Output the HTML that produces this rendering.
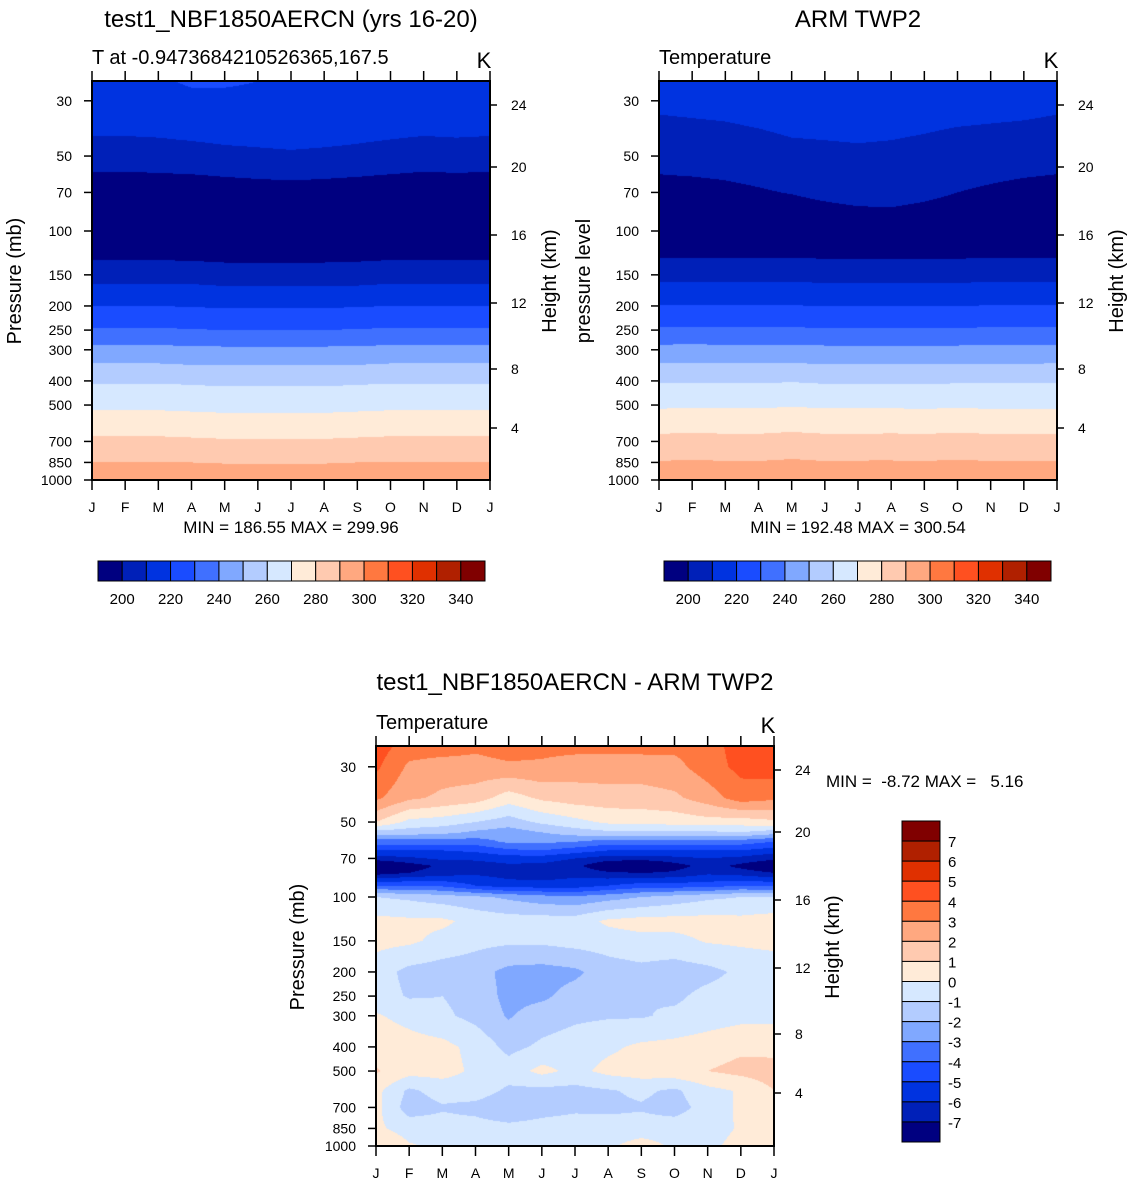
<!DOCTYPE html>
<html><head><meta charset="utf-8">
<style>
html,body{margin:0;padding:0;background:#fff;}
body{width:1133px;height:1184px;position:relative;overflow:hidden;font-family:"Liberation Sans",sans-serif;}
canvas{position:absolute;}
svg{position:absolute;left:0;top:0;}
text{white-space:pre;}
</style></head>
<body>
<canvas id="c1" style="left:92px;top:81px" width="398" height="399"></canvas>
<canvas id="c2" style="left:659px;top:81px" width="398" height="399"></canvas>
<canvas id="c3" style="left:376px;top:746px" width="398" height="400"></canvas>
<svg id="ov" width="1133" height="1184"></svg>
<script>
// ---- data ----
const months = ["J","F","M","A","M","J","J","A","S","O","N","D","J"];
const levelsTop = [25,30,50,70,100,125,150,200,250,300,400,500,700,850,1000];
const modelT = [
[218,218,219,221,221,220,218,217,217,217,217,218,218],
[217,217,217,218,218,218,218,218,217,217,217,217,217],
[206,206,206.5,207,208,208.5,209,208.5,208,207,206,206.5,206],
[192,192,192.5,193,194,195,195.5,195,194,193,192,192.5,192],
[188,188,188,188,187,187,187,187,187,188,188,188,188],
[198,198,198,197.5,197,197,196.5,197,197.5,198,198,198,198],
[206,206,206,206,205,205,205,205,205,206,206,206,206],
[220,220,220,219.5,219,219,219,219,219.5,220,220,220,220],
[231,231,231,230.5,230,230,230,230,230.5,231,231,231,231],
[243,243,243,242,242,242,242,242,242,243,243,243,243],
[259,259,259,258.5,258,258,258,258,258.5,259,259,259,259],
[268,268,268,267.5,267,267,267,267,267.5,268,268,268,268],
[282,282,282,281.5,281,281,281,281,281.5,282,282,282,282],
[290,290,290,290,289.5,289.5,289.5,289.5,290,290,290,290,290],
[297,297,297,297,297,297,297,297,297,297,297,297,297]];
const obsT = [
[214,215,216,217,218,218,218,218,217,216,216,215,214],
[212,212.5,213,214,215,215,215,215,214.5,214,213.5,213,212],
[204,204.5,205,206,207.5,208,208.5,208,207,205.5,205,204.5,204],
[196,196.5,197.5,199,200.5,203,205,205,203,200,198.5,197,196],
[188,188,188.5,189,189.5,190,191,192,190.5,189.5,189,188.5,188],
[199,199,199,199,199,198.5,198.5,198.5,198.5,198.5,199,199,199],
[207,207,207,207,207,206.5,206.5,206.5,206.5,206.5,207,207,207],
[220.5,220.5,220.3,220.3,220.3,220,220,220,219.8,220,220.3,220.3,220.5],
[231.5,231.5,231.3,231.3,231.3,231,231,231,230.8,231,231.3,231.3,231.5],
[243,243.3,243,243,243,242.5,242.5,242.5,242.3,242.5,242.8,242.8,243],
[259,259.3,259,259,259.5,258.8,258.8,258.8,258.8,259,259,259,259],
[268.5,269,268.7,268.7,269.3,268.7,268.7,268.7,268.5,268.8,268.5,268.5,268.5],
[283,283.5,283,283,283.8,283,283,283.2,283,283.5,283,283,283],
[290.5,291,290.5,290.5,291.2,290.5,290.7,290.7,290.5,291,290.5,290.5,290.5],
[298,298.5,298,298,298.5,298,298.2,298.2,298,298.5,298,298,298]];
const levelsDiff = [25,30,40,50,55,60,65,70,75,80,90,100,125,150,200,250,300,400,500,600,700,850,1000];
const diffT = [
[4.5,3.5,3.5,3.2,3.5,3.3,3.3,3.3,3.3,3.2,3.5,4.5,4.8],
[4.2,2.8,2.5,2.6,2.8,2.8,2.5,2.5,2.5,2.7,3.5,4.3,4.5],
[3.2,2.2,1.8,1.5,0.5,1.2,1.5,1.6,1.6,1.8,2.5,3.5,3.2],
[1.0,-0.3,-0.5,-1.0,-1.5,-0.8,-0.3,0.2,0.3,0.4,0.6,0.5,0.8],
[-1.5,-1.5,-1.7,-2.2,-2.5,-2.0,-1.5,-1.2,-1.2,-1.2,-1.2,-1.0,-1.5],
[-3.5,-3.5,-3.5,-3.5,-2.8,-2.8,-3.0,-3.5,-3.5,-3.3,-3.3,-3.5,-4.0],
[-5.0,-5.0,-5.0,-4.8,-4.2,-4.0,-4.5,-5.0,-5.0,-5.0,-5.0,-5.0,-5.5],
[-6.5,-6.2,-5.8,-5.8,-5.5,-5.5,-6.0,-6.5,-6.5,-6.3,-6.0,-6.3,-6.8],
[-8.5,-7.5,-6.8,-6.5,-6.2,-6.3,-6.7,-8.0,-8.7,-7.5,-6.5,-7.3,-8.0],
[-7.5,-7.0,-6.5,-6.2,-6.5,-6.7,-6.3,-6.8,-7.0,-6.8,-6.2,-6.5,-7.0],
[-4.0,-4.0,-4.2,-5.0,-5.5,-5.5,-5.5,-5.0,-4.5,-4.5,-4.5,-4.0,-4.2],
[-1.0,-1.2,-1.5,-1.8,-2.2,-2.6,-2.8,-2.4,-2.0,-1.6,-1.2,-1.0,-1.0],
[0.3,0.2,0.2,-0.3,-0.5,-0.5,-0.5,0.2,0.4,0.4,0.4,0.3,0.5],
[0.3,0.2,-0.3,-0.7,-0.8,-0.8,-0.6,-0.5,-0.3,-0.3,0.1,0.2,0.3],
[-0.5,-1.3,-1.5,-1.6,-2.3,-2.4,-2.2,-1.5,-1.3,-1.5,-1.3,-0.8,-0.6],
[-0.5,-1.1,-1.0,-1.4,-2.3,-2.2,-1.6,-1.3,-1.0,-1.2,-0.7,-0.5,-0.5],
[0.1,-0.3,-0.8,-1.3,-2.1,-1.5,-1.2,-1.1,-1.1,-0.8,-0.5,-0.3,-0.2],
[0.6,0.4,0.3,-0.3,-1.3,-0.8,-0.5,-0.2,0.2,0.3,0.5,0.8,0.6],
[1.1,0.4,0.4,-0.2,-0.5,0.3,-0.3,0.3,0.5,0.7,1.0,1.3,1.5],
[0.3,-1.2,-0.6,-0.5,-1.2,-1.3,-1.3,-1.1,-0.8,-1.2,-0.3,0.1,1.0],
[0.3,-1.5,-1.1,-1.3,-1.8,-1.4,-1.2,-1.2,-1.1,-1.4,-0.6,0.2,0.5],
[0.2,-0.4,-0.6,-0.6,-0.7,-0.6,-0.5,-0.6,-0.6,-0.5,-0.4,0.1,0.4],
[1.0,0.1,-0.2,-0.2,-0.2,-0.2,-0.2,-0.2,0.5,-0.2,-0.2,0.3,1.0]];
const pressureTicks = [30,50,70,100,150,200,250,300,400,500,700,850,1000];
const heightTicks = [24,20,16,12,8,4];
const topBarLabels = [200,220,240,260,280,300,320,340];
const diffBarLabels = [7,6,5,4,3,2,1,0,-1,-2,-3,-4,-5,-6,-7];
const palette = ["#000080","#0020b8","#0033e0","#1a4cff","#4070ff","#80a8ff","#b3ccff","#d6e8ff","#ffebd8","#ffcab0","#ffa880","#ff7840","#ff5020","#e03000","#b02000","#800000"];

// ---- axis helpers ----
const PTOP = 25, PBOT = 1000, PXDEC = 249;
function yP(p, bottom){ return bottom - Math.log10(PBOT/p)*PXDEC; }
function xM(i, left, w){ return left + i*w/12; }
function hexRGB(h){return [parseInt(h.substr(1,2),16),parseInt(h.substr(3,2),16),parseInt(h.substr(5,2),16)];}
const palRGB = palette.map(hexRGB);

function drawField(cid, levels, grid, lo, step){
  const cv = document.getElementById(cid), ctx = cv.getContext('2d');
  const W = cv.width, H = cv.height;
  const img = ctx.createImageData(W,H);
  const lp = levels.map(p=>Math.log10(p));
  for(let y=0;y<H;y++){
    const l = Math.log10(PBOT) - (H-0.5-y)/PXDEC;
    let k=0; while(k<lp.length-2 && l>lp[k+1]) k++;
    let fy=(l-lp[k])/(lp[k+1]-lp[k]); fy=Math.max(0,Math.min(1,fy));
    for(let x=0;x<W;x++){
      const mx=(x+0.5)/W*12; let i=Math.min(11,Math.floor(mx)); const fx=mx-i;
      const v=(grid[k][i]*(1-fx)+grid[k][i+1]*fx)*(1-fy)+(grid[k+1][i]*(1-fx)+grid[k+1][i+1]*fx)*fy;
      let b=Math.floor((v-lo)/step)+1; b=Math.max(0,Math.min(15,b));
      const c=palRGB[b], o=(y*W+x)*4;
      img.data[o]=c[0];img.data[o+1]=c[1];img.data[o+2]=c[2];img.data[o+3]=255;
    }
  }
  ctx.putImageData(img,0,0);
}
drawField('c1', levelsTop, modelT, 200, 10);
drawField('c2', levelsTop, obsT, 200, 10);
drawField('c3', levelsDiff, diffT, -7, 1);

const NS="http://www.w3.org/2000/svg", ov=document.getElementById('ov');
function el(tag, attrs, parent){const e=document.createElementNS(NS,tag);for(const k in attrs)e.setAttribute(k,attrs[k]);(parent||ov).appendChild(e);return e;}
function txt(s,x,y,size,anchor,parent,rot){const t=el('text',{x:x,y:y,'font-size':size,'text-anchor':anchor||'start','font-family':'Liberation Sans, sans-serif',fill:'#000'},parent);if(rot)t.setAttribute('transform','rotate(-90 '+x+' '+y+')');t.textContent=s;return t;}

function frame(left, top, w, h, name, heightYs){
  const g=el('g',{});
  
  
  const bottom=top+h;
  el('rect',{x:left,y:top,width:w,height:h,fill:'none',stroke:'#000','stroke-width':2},g);
  pressureTicks.forEach(p=>{
    const y=yP(p,bottom);
    el('line',{x1:left-8,y1:y,x2:left,y2:y,stroke:'#000','stroke-width':1.5},g);
    const t=txt(String(p),left-20,y+5,14,'end',g);
    
    
  });
  months.forEach((m,i)=>{
    const x=xM(i,left,w);
    el('line',{x1:x,y1:bottom,x2:x,y2:bottom+10,stroke:'#000','stroke-width':1.5},g);
    el('line',{x1:x,y1:top-10,x2:x,y2:top,stroke:'#000','stroke-width':1.5},g);
    const t=txt(m,x,bottom+32,14,'middle',g);
    
    
  });
  heightTicks.forEach((hv,i)=>{
    const y=top+heightYs[i];
    el('line',{x1:left+w,y1:y,x2:left+w+7,y2:y,stroke:'#000','stroke-width':1.5},g);
    const t=txt(String(hv),left+w+21,y+5,14,'start',g);
    
    
  });
}
const hYs=[24,86,154,222,288,347];
frame(92,81,398,399,'model',hYs);
frame(659,81,398,399,'obs',hYs);
frame(376,746,398,400,'diff',hYs);

function T(s,x,y,size,anchor,name,rot){const t=txt(s,x,y,size,anchor,ov,rot);return t;}
T('test1_NBF1850AERCN (yrs 16-20)',291,27,24,'middle','model-title');
T('T at -0.9473684210526365,167.5',92,64,20,'start','model-subtitle');
T('K',484,68,22,'middle','model-units');
T('ARM TWP2',858,27,24,'middle','obs-title');
T('Temperature',659,64,20,'start','obs-subtitle');
T('K',1051,68,22,'middle','obs-units');
T('Pressure (mb)',21,281,20,'middle','model-y-axis-title',true);
T('Height (km)',556,281,20,'middle','model-height-axis-title',true);
T('pressure level',590,281,20,'middle','obs-y-axis-title',true);
T('Height (km)',1123,281,20,'middle','obs-height-axis-title',true);
T('MIN = 186.55 MAX = 299.96',291,533,17,'middle','model-min-max');
T('MIN = 192.48 MAX = 300.54',858,533,17,'middle','obs-min-max');
T('test1_NBF1850AERCN - ARM TWP2',575,690,24,'middle','diff-title');
T('Temperature',376,729,20,'start','diff-subtitle');
T('K',768,733,22,'middle','diff-units');
T('Pressure (mb)',304,947,20,'middle','diff-y-axis-title',true);
T('Height (km)',839,947,20,'middle','diff-height-axis-title',true);
T('MIN =  -8.72 MAX =   5.16',826,787,17,'start','diff-min-max');

function hbar(left,name){
  const g=el('g',{});
  
  
  const bw=(485-98)/16;
  palette.forEach((c,i)=>{
    el('rect',{x:left+i*bw,y:561,width:bw,height:20,fill:c,stroke:'#000','stroke-width':1},g);
  });
  topBarLabels.forEach((v,i)=>{
    const idx=(v-200)/10+1;
    const t=txt(String(v),left+idx*bw,604,15,'middle',g);
    
    
  });
}
hbar(98,'model-colorbar');
hbar(664,'obs-colorbar');
(function(){
  const g=el('g',{});
  
  
  const bh=(1142-821)/16;
  palette.slice().reverse().forEach((c,i)=>{
    el('rect',{x:902,y:821+i*bh,width:38,height:bh,fill:c,stroke:'#000','stroke-width':1},g);
  });
  diffBarLabels.forEach((v,i)=>{
    const idx=7-v+1;
    const t=txt(String(v),948,821+idx*bh+6,15,'start',g);
    
    
  });
})();
</script>
</body></html>
